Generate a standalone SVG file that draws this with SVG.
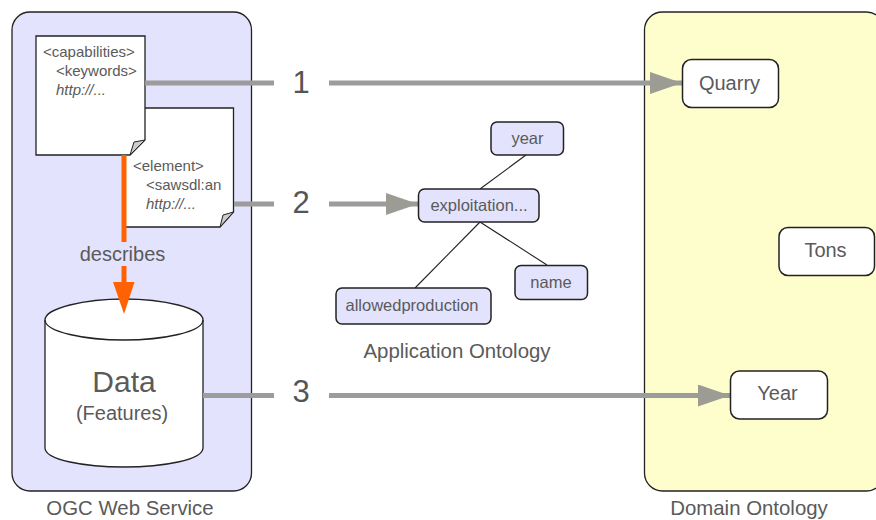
<svg xmlns="http://www.w3.org/2000/svg" width="876" height="520" viewBox="0 0 876 520">
<style>
text{font-family:"Liberation Sans",Arial,sans-serif;fill:#5a5a5a}
.panel{stroke:#222222;stroke-width:1.3}
.doc{fill:#ffffff;stroke:#222222;stroke-width:1.3}
.fold{fill:#cccccc;stroke:#222222;stroke-width:1}
.box{fill:#e3e3fd;stroke:#222222;stroke-width:1.5}
.dbox{fill:#ffffff;stroke:#222222;stroke-width:1.5}
.line{stroke:#9c9c9c;stroke-width:5;fill:none}
.thin{stroke:#222222;stroke-width:1.1;fill:none}
.code{font-size:15px}
.node{font-size:16.500px;text-anchor:middle}
.dom{font-size:20px;text-anchor:middle}
.cap{font-size:20.400px;text-anchor:middle}
.num{font-size:31px;text-anchor:middle;fill:#555555}
</style>
<defs>
<marker id="ga" markerUnits="userSpaceOnUse" markerWidth="32" markerHeight="24" refX="32" refY="11" orient="auto"><path d="M0 0L32 11L0 22Z" fill="#9c9c94"/></marker>
</defs>
<rect width="876" height="520" fill="#ffffff"/>
<g id="ogc-web-service">
<rect class="panel" x="12" y="12" width="239.500" height="479" rx="18" fill="#e3e3fd"/>
<text class="cap" x="130" y="515">OGC Web Service</text>
</g>
<g id="domain-ontology">
<rect class="panel" x="644.500" y="12" width="240" height="479" rx="18" fill="#fefecd"/>
<text class="cap" x="749" y="515">Domain Ontology</text>
</g>
<g id="element-doc">
<path class="doc" d="M124 108H233.500V212L220 227H124Z"/>
<path class="fold" d="M233.500 212L220 227L223 215Z"/>
<text class="code" x="133" y="171">&lt;element&gt;</text>
<text class="code" x="146" y="190">&lt;sawsdl:an</text>
<text class="code" x="146" y="209" font-style="italic">http://...</text>
</g>
<g id="capabilities-doc">
<path class="doc" d="M36 36H145V140L130 155H36Z"/>
<path class="fold" d="M145 140L130 155L134 142Z"/>
<text class="code" x="43" y="57">&lt;capabilities&gt;</text>
<text class="code" x="56" y="76">&lt;keywords&gt;</text>
<text class="code" x="56" y="95" font-style="italic">http://...</text>
</g>
<g id="data">
<path d="M45 320C45 308 85 299 124 299C163 299 203 308 203 320V448C203 460 163 467 124 467C85 467 45 460 45 448Z" fill="#ffffff" stroke="#222222" stroke-width="1.3"/>
<path d="M45 320C45 332 85 340 124 340C163 340 203 332 203 320" fill="none" stroke="#222222" stroke-width="1.3"/>
<text x="124" y="392" font-size="30" text-anchor="middle">Data</text>
<text x="122" y="420" font-size="20" text-anchor="middle">(Features)</text>
</g>
<g id="connectors">
<line class="thin" x1="526" y1="155" x2="480" y2="189"/>
<line class="thin" x1="480" y1="222" x2="415" y2="288"/>
<line class="thin" x1="480" y1="222" x2="547" y2="265"/>
<line class="line" x1="145" y1="83" x2="274" y2="83"/>
<line class="line" x1="329" y1="83" x2="682" y2="83" marker-end="url(#ga)"/>
<line class="line" x1="234" y1="204" x2="274" y2="204"/>
<line class="line" x1="329" y1="204" x2="418" y2="204" marker-end="url(#ga)"/>
<line class="line" x1="203" y1="395.500" x2="274" y2="395.500"/>
<line class="line" x1="329" y1="395.500" x2="730" y2="395.500" marker-end="url(#ga)"/>
<line x1="124" y1="155" x2="124" y2="242" stroke="#ff6103" stroke-width="5"/>
<line x1="124" y1="266" x2="124" y2="285" stroke="#ff6103" stroke-width="5"/>
<path d="M113 282H134.500L124 314Z" fill="#ff6103"/>
<text x="122.500" y="261" font-size="20" text-anchor="middle">describes</text>
<text class="num" x="301" y="93">1</text>
<text class="num" x="301" y="213">2</text>
<text class="num" x="301" y="402">3</text>
</g>
<g id="year"><rect class="box" x="491" y="122" width="72.500" height="33" rx="6"/><text class="node" x="527.500" y="144">year</text></g>
<g id="exploitation"><rect class="box" x="418.500" y="189" width="120.500" height="33" rx="6"/><text class="node" x="479" y="211">exploitation...</text></g>
<g id="name"><rect class="box" x="515" y="265.500" width="72.500" height="34" rx="6"/><text class="node" x="551" y="287.500">name</text></g>
<g id="allowedproduction"><rect class="box" x="336" y="288" width="155" height="36" rx="6"/><text class="node" x="412" y="310.500">allowedproduction</text></g>
<text class="cap" x="457" y="358">Application Ontology</text>
<g id="quarry"><rect class="dbox" x="682.500" y="59.500" width="96" height="48" rx="9"/><text class="dom" x="729.500" y="90">Quarry</text></g>
<g id="tons"><rect class="dbox" x="779" y="227.500" width="95.500" height="48" rx="9"/><text class="dom" x="825.500" y="257">Tons</text></g>
<g id="year-domain"><rect class="dbox" x="730.500" y="371" width="97" height="48" rx="9"/><text class="dom" x="777.500" y="400">Year</text></g>
</svg>
